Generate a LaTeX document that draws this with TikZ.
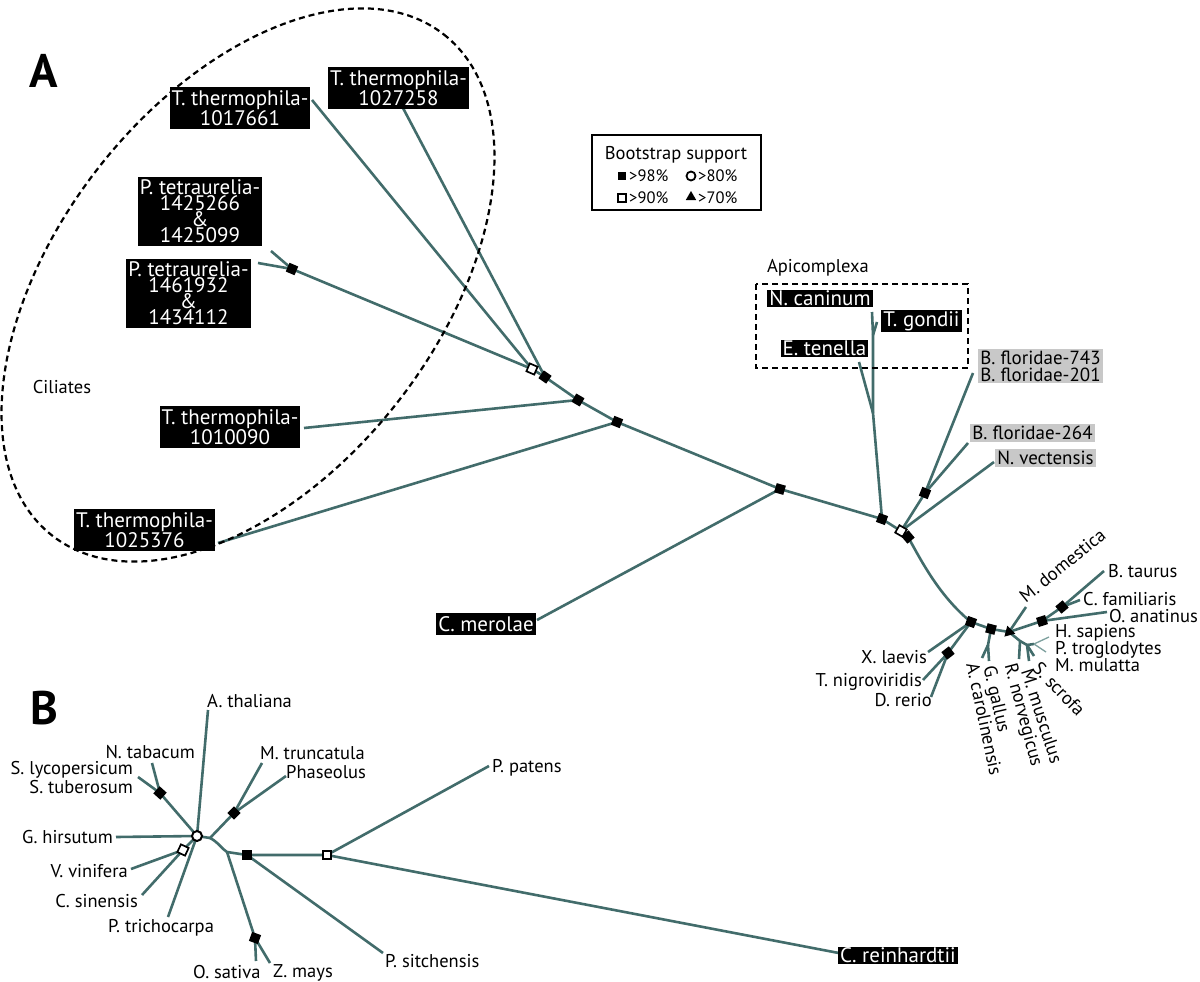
\documentclass[tikz,border=0pt]{standalone}
\usepackage{fontspec}
\setmainfont{PT Sans}
\usetikzlibrary{shapes.geometric}
\definecolor{brc}{RGB}{66,108,107}
\definecolor{lbrc}{RGB}{125,160,158}
\definecolor{gboxc}{RGB}{200,200,200}
\begin{document}
\begin{tikzpicture}[x=1pt,y=-1pt,
 br/.style={draw=brc, line width=2.6pt},
 lbr/.style={draw=lbrc, line width=1.3pt},
 dsh/.style={draw=black, line width=2.2pt, dash pattern=on 6pt off 4pt},
 fsq/.style={rectangle, fill=black, minimum size=9.5pt, inner sep=0pt},
 osq/.style={rectangle, draw=black, fill=white, line width=1.7pt, minimum size=8.5pt, inner sep=0pt},
 ocirc/.style={circle, draw=black, fill=white, line width=2pt, minimum size=10pt, inner sep=0pt},
 tri/.style={regular polygon, regular polygon sides=3, fill=black, minimum size=13pt, inner sep=0pt},
 bl/.style={fill=black, text=white, font=\fontsize{21}{16}\selectfont, inner xsep=2pt, inner ysep=3pt, align=center},
 gl/.style={fill=gboxc, font=\fontsize{19}{17}\selectfont, inner xsep=2pt, inner ysep=2pt, align=left},
 pl/.style={font=\fontsize{18.5}{18}\selectfont, inner sep=1pt},
 lgt/.style={font=\fontsize{16.5}{16}\selectfont, inner sep=0pt},
 big/.style={font=\fontsize{47}{47}\bfseries\selectfont, inner sep=0pt},
]
\useasboundingbox (0,0) rectangle (1200,982);
\fill[white] (0,0) rectangle (1200,982);

% ---------------- Panel A coordinates ----------------
\coordinate (pt) at (292,269);
\coordinate (ptA) at (271,251);
\coordinate (ptB) at (258,263);
\coordinate (oa) at (532,369);
\coordinate (ja1) at (545,377);
\coordinate (ja2) at (578,400);
\coordinate (ja3) at (617,422);
\coordinate (ja4) at (780,489);
\coordinate (ja5) at (882,519);
\coordinate (ob) at (901,531);
\coordinate (ja6) at (908,537);
\coordinate (e61) at (312,100);
\coordinate (e58) at (403,108);
\coordinate (e90) at (304,428);
\coordinate (e76) at (218,543);
\coordinate (emer) at (537,620);
\coordinate (jap) at (873,413);
\coordinate (jap2) at (873,335);
\coordinate (eten) at (859,362);
\coordinate (ecan) at (872,312);
\coordinate (egon) at (877,322);
\coordinate (jbf) at (925,493);
\coordinate (ebf1) at (973,373);
\coordinate (ebf2) at (968,443);
\coordinate (envec) at (994,462);
\coordinate (v1) at (971,622);
\coordinate (exla) at (928,652);
\coordinate (vf) at (948,653);
\coordinate (etni) at (923,680);
\coordinate (edre) at (931,697);
\coordinate (v2) at (991,629);
\coordinate (vb) at (988,645);
\coordinate (eaca) at (982,658);
\coordinate (egga) at (989,661);
\coordinate (v3) at (1009,632);
\coordinate (emdo) at (1026,607);
\coordinate (v4) at (1042,621);
\coordinate (eoan) at (1107,612);
\coordinate (v5) at (1062,607);
\coordinate (ebta) at (1104,571);
\coordinate (ecfa) at (1080,600);
\coordinate (v6) at (1020,641);
\coordinate (erno) at (1019,659);
\coordinate (v7) at (1027,645);
\coordinate (emmu) at (1029,661);
\coordinate (essc) at (1034,656);
\coordinate (v8) at (1034,644);
\coordinate (ehsa) at (1049,637);
\coordinate (eptr) at (1046,652);

% ---------------- Panel A branches ----------------
\draw[br] (e61) -- (oa);
\draw[br] (pt) -- (oa);
\draw[br] (ptA) -- (pt);
\draw[br] (ptB) -- (pt);
\draw[br] (oa) -- (ja1) -- (ja2) -- (ja3) -- (ja4) -- (ja5) -- (ob) -- (ja6);
\draw[br] (e58) -- (ja1);
\draw[br] (e90) -- (ja2);
\draw[br] (e76) -- (ja3);
\draw[br] (emer) -- (ja4);
\draw[br] (ja5) -- (jap) -- (jap2) -- (ecan);
\draw[br] (jap2) -- (egon);
\draw[br] (jap) -- (eten);
\draw[br] (ob) -- (jbf) -- (ebf1);
\draw[br] (jbf) -- (ebf2);
\draw[br] (ob) -- (envec);
\draw[br] (ja6) .. controls (920,558) and (938,595) .. (v1);
\draw[br] (v1) -- (v2) -- (v3);
\draw[br] (v1) -- (exla);
\draw[br] (v1) -- (vf) -- (etni);
\draw[br] (vf) -- (edre);
\draw[br] (v2) -- (vb) -- (eaca);
\draw[br] (vb) -- (egga);
\draw[br] (v3) -- (emdo);
\draw[br] (v3) -- (v4) -- (eoan);
\draw[br] (v4) -- (v5) -- (ebta);
\draw[br] (v5) -- (ecfa);
\draw[br] (v3) -- (v6) -- (erno);
\draw[br] (v6) -- (v7) -- (emmu);
\draw[br] (v7) -- (essc);
\draw[br] (v7) -- (v8);
\draw[lbr] (v8) -- (ehsa);
\draw[lbr] (v8) -- (eptr);

% ---------------- Panel A markers ----------------
\node[fsq, rotate=-23] (mpt) at (pt) {};
\node[osq, rotate=-23] (moa) at (oa) {};
\node[fsq, rotate=-35] (mja1) at (ja1) {};
\node[fsq, rotate=-30] (mja2) at (ja2) {};
\node[fsq, rotate=-22] (mja3) at (ja3) {};
\node[fsq, rotate=-16] (mja4) at (ja4) {};
\node[fsq, rotate=-20] (mja5) at (ja5) {};
\node[osq, rotate=-30] (mob) at (ob) {};
\node[fsq, rotate=-50] (mja6) at (ja6) {};
\node[fsq, rotate=68] (mjbf) at (jbf) {};
\node[fsq, rotate=-20] (mv1) at (v1) {};
\node[fsq, rotate=-52] (mvf) at (vf) {};
\node[fsq, rotate=-15] (mv2) at (v2) {};
\node[tri, rotate=15] (mv3) at (v3) {};
\node[fsq, rotate=18] (mv4) at (v4) {};
\node[fsq, rotate=40] (mv5) at (v5) {};

% ---------------- Panel A labels ----------------
\node[big, anchor=base west] (letA) at (29,88) {A};
\draw[dsh, shift={(248,285)}, rotate=52] (0,0) ellipse [x radius=318, y radius=190];
\node[pl, anchor=base] (cil) at (62,393) {Ciliates};
\node[bl] (l61) at (240,108) {T. thermophila-\\1017661};
\node[bl] (l58) at (398.5,88) {T. thermophila-\\1027258};
\node[bl] (lpt1) at (200,211.5) {P. tetraurelia-\\1425266\\\&\\1425099};
\node[bl] (lpt2) at (188.5,293.5) {P. tetraurelia-\\1461932\\\&\\1434112};
\node[bl] (l90) at (230,427) {T. thermophila-\\1010090};
\node[bl] (l76) at (144.5,530) {T. thermophila-\\1025376};
\node[bl] (lmer) at (486,624) {C. merolae};

\node[pl, anchor=base] (api) at (818,272) {Apicomplexa};
\draw[dsh] (756,284) rectangle (968,368);
\node[bl, inner ysep=1pt] (lcan) at (820,298.5) {N. caninum};
\node[bl, inner ysep=1pt] (lgon) at (921.5,321) {T. gondii};
\node[bl, inner ysep=1pt] (lten) at (824.5,348.5) {E. tenella};

\node[gl] (lbf1) at (1040.5,366) {B. floridae-743\\B. floridae-201};
\node[gl] (lbf2) at (1032.5,433) {B. floridae-264};
\node[gl] (lnve) at (1045.5,458) {N. vectensis};

\node[pl, anchor=base west] (lbta) at (1107,577) {B. taurus};
\node[pl, anchor=base west] (lcfa) at (1082,605) {C. familiaris};
\node[pl, anchor=base west] (loan) at (1108,622) {O. anatinus};
\node[pl, anchor=base west] (lhsa) at (1054,637) {H. sapiens};
\node[pl, anchor=base west] (lptr) at (1054,654) {P. troglodytes};
\node[pl, anchor=base west] (lmml) at (1054,671) {M. mulatta};
\node[pl, anchor=base east] (lxla) at (928,663) {X. laevis};
\node[pl, anchor=base east] (ltni) at (923,686) {T. nigroviridis};
\node[pl, anchor=base east] (ldre) at (933,706) {D. rerio};
\node[pl, anchor=base west, rotate=39] (lmdo) at (1025,604) {M. domestica};
\node[pl, anchor=north west, rotate=-78] (laca) at (980,660) {A. carolinensis};
\node[pl, anchor=north west, rotate=-77] (lgga) at (997,663) {G. gallus};
\node[pl, anchor=north west, rotate=-75] (lrno) at (1018,661) {R. norvegicus};
\node[pl, anchor=north west, rotate=-72] (lmmu) at (1034,666) {M. musculus};
\node[pl, anchor=north west, rotate=-46] (lssc) at (1041,659) {S. scrofa};

% ---------------- Legend ----------------
\node[draw=black, line width=2pt, minimum width=169pt, minimum height=75pt, inner sep=0pt] (leg) at (676.5,172.5) {};
\node[font=\fontsize{18.5}{18}\selectfont, inner sep=0pt] (legt) at (676,155) {Bootstrap support};
\node[fsq, minimum size=8pt] (lg1) at (622,176) {};
\node[lgt, anchor=west] (lg1t) at (629,176) {>98\%};
\node[ocirc, minimum size=9pt, line width=1.8pt] (lg2) at (691,176) {};
\node[lgt, anchor=west] (lg2t) at (698,176) {>80\%};
\node[osq, minimum size=8pt, line width=1.6pt] (lg3) at (622,198) {};
\node[lgt, anchor=west] (lg3t) at (629,198) {>90\%};
\node[tri, minimum size=12pt] (lg4) at (691,197) {};
\node[lgt, anchor=west] (lg4t) at (698,198) {>70\%};

% ---------------- Panel B ----------------
\coordinate (bc) at (197,836);
\coordinate (eath) at (208,710);
\coordinate (bsol) at (160,793);
\coordinate (etab) at (152,763);
\coordinate (elyc) at (138,777);
\coordinate (ehir) at (116,837);
\coordinate (bvc) at (183,850);
\coordinate (evin) at (131,869);
\coordinate (esin) at (142,895);
\coordinate (etri) at (168,917);
\coordinate (bn1) at (210,838);
\coordinate (bleg) at (234,813);
\coordinate (emtr) at (262,763);
\coordinate (epha) at (286,776);
\coordinate (bn2) at (227,852);
\coordinate (bgr) at (255,938);
\coordinate (esat) at (256,961);
\coordinate (emay) at (270,963);
\coordinate (bgy) at (247,855);
\coordinate (esit) at (383,953);
\coordinate (bop) at (327,855);
\coordinate (epat) at (489,766);
\coordinate (erei) at (844,954);

\draw[br] (eath) -- (bc);
\draw[br] (bsol) -- (bc);
\draw[br] (bsol) -- (etab);
\draw[br] (bsol) -- (elyc);
\draw[br] (ehir) -- (bc);
\draw[br] (bvc) -- (bc);
\draw[br] (bvc) -- (evin);
\draw[br] (bvc) -- (esin);
\draw[br] (etri) -- (bc);
\draw[br] (bc) -- (bn1);
\draw[br] (bn1) -- (bleg) -- (emtr);
\draw[br] (bleg) -- (epha);
\draw[br] (bn1) .. controls (218,842) and (222,849) .. (bn2) -- (bgy);
\draw[br] (bn2) -- (bgr) -- (esat);
\draw[br] (bgr) -- (emay);
\draw[br] (bgy) -- (esit);
\draw[br] (bgy) -- (bop) -- (epat);
\draw[br] (bop) -- (erei);

\node[ocirc] (mbc) at (bc) {};
\node[fsq, rotate=48] (mbsol) at (bsol) {};
\node[osq, rotate=-25] (mbvc) at (bvc) {};
\node[fsq, rotate=45] (mbleg) at (bleg) {};
\node[fsq] (mbgy) at (bgy) {};
\node[fsq, rotate=70] (mbgr) at (bgr) {};
\node[osq] (mbop) at (bop) {};

\node[big, anchor=base west] (letB) at (30,724) {B};
\node[pl, anchor=base west] (lath) at (206,707) {A. thaliana};
\node[pl, anchor=base east] (ltab) at (196,758) {N. tabacum};
\node[pl, anchor=base east] (llyc) at (134,774) {S. lycopersicum};
\node[pl, anchor=base east] (ltub) at (134,793) {S. tuberosum};
\node[pl, anchor=base west] (lmtr) at (259,759) {M. truncatula};
\node[pl, anchor=base west] (lpha) at (285,778) {Phaseolus};
\node[pl, anchor=base east] (lhir) at (114,843) {G. hirsutum};
\node[pl, anchor=base east] (lvin) at (129,877) {V. vinifera};
\node[pl, anchor=base east] (lsin) at (139,907) {C. sinensis};
\node[pl, anchor=base west] (ltri) at (107,932) {P. trichocarpa};
\node[pl, anchor=base west] (lsat) at (192,978) {O. sativa};
\node[pl, anchor=base west] (lmay) at (272,977) {Z. mays};
\node[pl, anchor=base west] (lsit) at (384,967) {P. sitchensis};
\node[pl, anchor=base west] (lpat) at (491,772) {P. patens};
\node[bl, inner ysep=1pt] (lrei) at (898,955.5) {C. reinhardtii};
\end{tikzpicture}
\end{document}
